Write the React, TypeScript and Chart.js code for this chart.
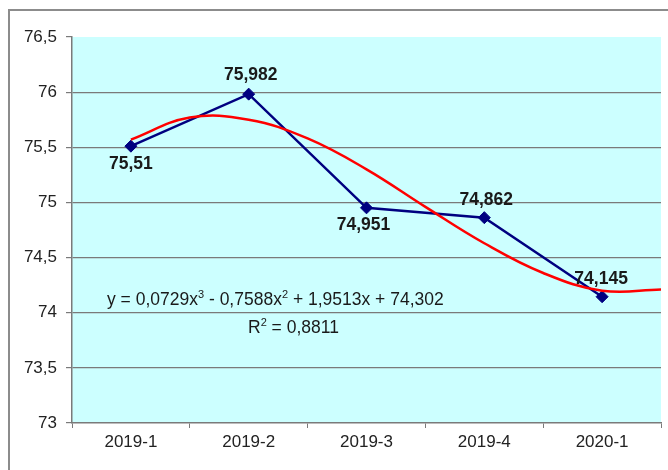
import React, { useEffect, useRef } from "react";
import { Chart, registerables } from "chart.js";

Chart.register(...registerables);

const categories = ["2019-1", "2019-2", "2019-3", "2019-4", "2020-1"];
const values = [75.51, 75.982, 74.951, 74.862, 74.145];
const valueLabels = ["75,51", "75,982", "74,951", "74,862", "74,145"];
const trendX = [1, 1.5, 2, 2.5, 3, 3.5, 4, 4.5, 5, 5.5];
const trendY = [75.57, 75.77, 75.75, 75.58, 75.3, 74.96, 74.63, 74.36, 74.2, 74.21];
const yMin = 73;
const yMax = 76.5;
const yStep = 0.5;
const equationParts: [string, boolean][] = [
  ["y = 0,0729x", false],
  ["3", true],
  [" - 0,7588x", false],
  ["2", true],
  [" + 1,9513x + 74,302", false],
];
const r2Parts: [string, boolean][] = [
  ["R", false],
  ["2", true],
  [" = 0,8811", false],
];

const FONT = "'Liberation Sans', Arial, sans-serif";
const GRID = "#7a7a7a";

export default function App() {
  const ref = useRef<HTMLCanvasElement | null>(null);

  useEffect(() => {
    const canvas = ref.current;
    if (!canvas) return;

    const framePlugin = {
      id: "frame",
      beforeDraw(chart: any) {
        const { ctx, chartArea } = chart;
        ctx.save();
        ctx.fillStyle = "#ffffff";
        ctx.fillRect(0, 0, chart.width, chart.height);
        ctx.fillStyle = "#ccffff";
        ctx.fillRect(
          chartArea.left,
          chartArea.top,
          chartArea.right - chartArea.left,
          chartArea.bottom - chartArea.top
        );
        ctx.strokeStyle = "#8c8c8c";
        ctx.lineWidth = 2;
        ctx.beginPath();
        ctx.moveTo(9, chart.height);
        ctx.lineTo(9, 10);
        ctx.lineTo(chart.width, 10);
        ctx.stroke();
        ctx.restore();
      },
    };

    const drawParts = (ctx: any, parts: [string, boolean][], x: number, y: number) => {
      let cx = x;
      for (const [t, sup] of parts) {
        ctx.font = sup ? `11px ${FONT}` : `17.5px ${FONT}`;
        ctx.fillText(t, cx, sup ? y - 7 : y);
        cx += ctx.measureText(t).width;
      }
    };

    const labelPlugin = {
      id: "labels",
      afterDatasetsDraw(chart: any) {
        const { ctx } = chart;
        const meta = chart.getDatasetMeta(1);
        const offsets = [
          [0, 18],
          [2, -19],
          [-3, 17],
          [2, -17],
          [-1, -18],
        ];
        ctx.save();
        ctx.fillStyle = "#1a1a1a";
        ctx.font = `bold 17.5px ${FONT}`;
        ctx.textAlign = "center";
        ctx.textBaseline = "middle";
        meta.data.forEach((pt: any, i: number) => {
          ctx.fillText(valueLabels[i], pt.x + offsets[i][0], pt.y + offsets[i][1]);
        });
        ctx.textAlign = "left";
        ctx.textBaseline = "alphabetic";
        ctx.fillStyle = "#1a1a1a";
        drawParts(ctx, equationParts, 107, 305);
        drawParts(ctx, r2Parts, 248, 333);
        ctx.restore();
      },
    };

    const chart = new Chart(canvas, {
      type: "line",
      data: {
        labels: categories,
        datasets: [
          {
            label: "trend",
            data: trendX.map((x, i) => ({ x, y: trendY[i] })),
            xAxisID: "x2",
            borderColor: "#ff0000",
            borderWidth: 2.5,
            pointRadius: 0,
            tension: 0.4,
            fill: false,
          },
          {
            label: "values",
            data: values,
            xAxisID: "x",
            borderColor: "#000080",
            backgroundColor: "#000080",
            borderWidth: 2.5,
            pointStyle: "rectRot",
            pointRadius: 6,
            pointBorderWidth: 1,
            tension: 0,
            fill: false,
          },
        ],
      },
      options: {
        responsive: false,
        animation: false,
        devicePixelRatio: 1,
        layout: { padding: { left: 0, top: 37, right: 3, bottom: 0 } },
        plugins: {
          legend: { display: false },
          tooltip: { enabled: false },
        },
        scales: {
          x: {
            type: "category",
            offset: true,
            afterFit(scale: any) {
              scale.height = 47;
            },
            grid: {
              drawOnChartArea: false,
              offset: true,
              tickLength: 5,
              tickColor: GRID,
              color: GRID,
            },
            border: { color: GRID, width: 1.5 },
            ticks: {
              color: "#222222",
              font: { family: FONT, size: 17 },
              padding: 4,
              maxRotation: 0,
            },
          },
          x2: {
            type: "linear",
            display: false,
            min: 0.5,
            max: 5.5,
          },
          y: {
            type: "linear",
            min: yMin,
            max: yMax,
            afterFit(scale: any) {
              scale.width = 72;
            },
            ticks: {
              stepSize: yStep,
              color: "#222222",
              font: { family: FONT, size: 17 },
              padding: 9,
              callback: (v: any) => String(v).replace(".", ","),
            },
            grid: {
              color: (c: any) =>
                c.tick && (c.tick.value === yMax || c.tick.value === yMin) ? "rgba(0,0,0,0)" : GRID,
              tickColor: GRID,
              tickLength: 6,
              lineWidth: 1.2,
            },
            border: { color: GRID, width: 1.5 },
          },
        },
      },
      plugins: [framePlugin, labelPlugin],
    });

    return () => chart.destroy();
  }, []);

  return (
    <canvas
      ref={ref}
      width={668}
      height={470}
      style={{ position: "fixed", left: 0, top: 0, width: 668, height: 470 }}
    />
  );
}
